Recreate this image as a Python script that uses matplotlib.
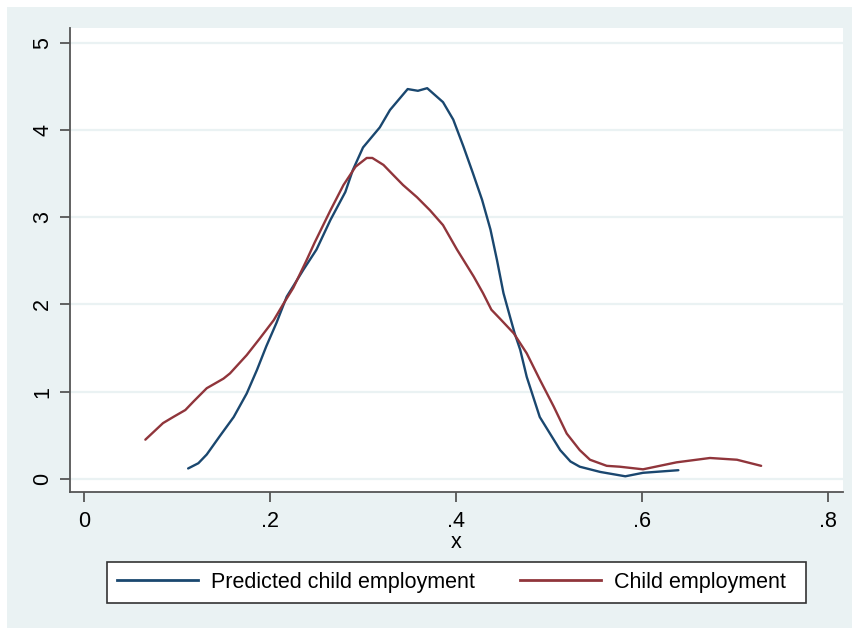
import matplotlib
matplotlib.use("Agg")
import matplotlib.pyplot as plt
from matplotlib.patches import Rectangle

plt.rcParams['font.family'] = ['Liberation Sans', 'DejaVu Sans']

# Kernel density estimates along x
pred_x = [0.112, 0.123, 0.132, 0.146, 0.161, 0.175, 0.186, 0.196, 0.207, 0.218,
          0.225, 0.236, 0.250, 0.265, 0.281, 0.289, 0.300, 0.318, 0.329, 0.348,
          0.359, 0.369, 0.386, 0.397, 0.408, 0.418, 0.428, 0.437, 0.444, 0.451,
          0.458, 0.463, 0.469, 0.476, 0.483, 0.490, 0.501, 0.512, 0.523, 0.533,
          0.555, 0.582, 0.601, 0.639]
pred_y = [0.12, 0.18, 0.28, 0.49, 0.71, 0.98, 1.25, 1.52, 1.79, 2.09,
          2.21, 2.40, 2.63, 2.97, 3.29, 3.54, 3.80, 4.03, 4.23, 4.47,
          4.45, 4.48, 4.32, 4.12, 3.81, 3.51, 3.20, 2.86, 2.51, 2.13,
          1.86, 1.67, 1.48, 1.17, 0.94, 0.71, 0.52, 0.33, 0.20, 0.14,
          0.08, 0.03, 0.07, 0.10]

child_x = [0.066, 0.085, 0.096, 0.109, 0.118, 0.132, 0.150, 0.157, 0.175, 0.189,
           0.204, 0.214, 0.225, 0.239, 0.248, 0.265, 0.279, 0.292, 0.304, 0.310,
           0.322, 0.332, 0.343, 0.358, 0.372, 0.386, 0.401, 0.419, 0.429, 0.438,
           0.447, 0.462, 0.476, 0.490, 0.505, 0.519, 0.533, 0.544, 0.562, 0.576,
           0.601, 0.637, 0.673, 0.702, 0.728]
child_y = [0.45, 0.64, 0.71, 0.79, 0.89, 1.04, 1.15, 1.21, 1.42, 1.61,
           1.82, 2.00, 2.19, 2.50, 2.71, 3.08, 3.37, 3.58, 3.68, 3.68,
           3.60, 3.49, 3.37, 3.23, 3.08, 2.91, 2.63, 2.32, 2.13, 1.94,
           1.84, 1.67, 1.44, 1.14, 0.83, 0.52, 0.33, 0.22, 0.15, 0.14,
           0.11, 0.19, 0.24, 0.22, 0.15]

x_ticks = [0, 0.2, 0.4, 0.6, 0.8]
x_ticklabels = ["0", ".2", ".4", ".6", ".8"]
y_ticks = [0, 1, 2, 3, 4, 5]

BG = "#eaf2f3"
NAVY = "#1a476f"
MAROON = "#90353b"
AXC = "#555555"

W, H = 853, 628
fig = plt.figure(figsize=(W / 100, H / 100), dpi=100, facecolor="white")
fig.patches.append(Rectangle((7 / W, 0), (852 - 7) / W, (628 - 7) / H,
                             transform=fig.transFigure, facecolor=BG,
                             edgecolor="none", zorder=-10))

ax = fig.add_axes([70 / W, (H - 492) / H, (843 - 70) / W, (492 - 28) / H])
ax.set_facecolor("white")
ax.set_xlim(-0.015, 0.816)
ax.set_ylim(-0.15, 5.17)

for yv in y_ticks:
    ax.axhline(yv, color=BG, lw=1.6, zorder=1)

ax.plot(pred_x, pred_y, color=NAVY, lw=1.7, zorder=3,
        solid_joinstyle="round", solid_capstyle="round")
ax.plot(child_x, child_y, color=MAROON, lw=1.7, zorder=3,
        solid_joinstyle="round", solid_capstyle="round")

for side in ("top", "right"):
    ax.spines[side].set_visible(False)
for side in ("left", "bottom"):
    ax.spines[side].set_color(AXC)
    ax.spines[side].set_linewidth(1.3)

ax.set_xticks(x_ticks)
ax.set_xticklabels(x_ticklabels)
ax.set_yticks(y_ticks)
ax.tick_params(axis="both", colors=AXC, length=7, width=1.3, labelsize=15.5,
               labelcolor="black")
ax.tick_params(axis="y", pad=5)
ax.tick_params(axis="x", pad=7)
for lbl in ax.get_yticklabels():
    lbl.set_rotation(90)
    lbl.set_va("center")

ax.set_xlabel("x", fontsize=15.5, labelpad=0)

# Legend box drawn separately so the padding can be set on each side
fig.patches.append(Rectangle((107 / W, (H - 603) / H), (806 - 107) / W, 41 / H,
                             transform=fig.transFigure, facecolor="white",
                             edgecolor="#333333", lw=1.2, zorder=1))
h1, = ax.plot([], [], color=NAVY, lw=2.0)
h2, = ax.plot([], [], color=MAROON, lw=2.0)
fs_px = 15.5 * 100 / 72
leg = fig.legend([h1, h2], ["Predicted child employment", "Child employment"],
                 loc="center left", bbox_to_anchor=(117 / W, (H - 582.5) / H),
                 ncol=2, fontsize=15.5, frameon=False,
                 handlelength=81 / fs_px, handletextpad=13 / fs_px,
                 columnspacing=45 / fs_px, borderpad=0, borderaxespad=0)
leg.set_zorder(2)

fig.savefig("out.png", dpi=100, facecolor="white")
